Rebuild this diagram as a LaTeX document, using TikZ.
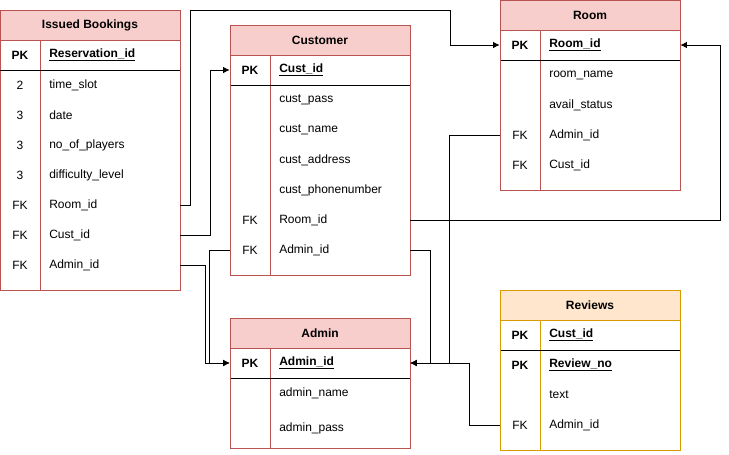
\documentclass[tikz,border=0pt]{standalone}
\usepackage{fontspec}
\setmainfont{Liberation Sans}
\usetikzlibrary{arrows.meta}
\definecolor{redline}{HTML}{B85450}
\definecolor{redfill}{HTML}{F8CECC}
\definecolor{orline}{HTML}{D79B00}
\definecolor{orfill}{HTML}{FFE6CC}
\tikzset{
	tbl/.style={draw=redline, line width=0.75pt},
	title/.style={font=\fontsize{9}{10}\selectfont\bfseries, inner sep=0.75pt},
	keycol/.style={font=\fontsize{9}{10}\selectfont, inner sep=0.75pt},
	fieldcol/.style={font=\fontsize{9}{10}\selectfont, anchor=west, inner sep=0.75pt},
	rowbox/.style={minimum width=135pt, minimum height=22.5pt, inner sep=0pt},
	fk/.style={line width=0.75pt, -{Latex[length=5pt,width=5pt]}},
}
\begin{document}
\begin{tikzpicture}[x=0.75pt,y=0.75pt,yscale=-1,xscale=1]
	\useasboundingbox (0,0) rectangle (729,454);
	% Issued Bookings
	\draw[tbl, fill=redfill] (0,10) rectangle (180,40);
	\draw[tbl] (0,10) rectangle (180,290) (40,40) -- (40,290);
	\draw[line width=0.75pt] (0.5,70) -- (179.5,70);
	\node[title] (ib) at (90,25) {Issued Bookings};
	\node[rowbox] (ib-pk) at (90,55) {};
	\node[keycol, font=\fontsize{9}{10}\selectfont\bfseries] at (20,55) {PK};
	\node[fieldcol, font=\fontsize{9}{10}\selectfont\bfseries] at (48,55) {\underline{Reservation\_id}};
	\foreach \k/\f [count=\i] in {2/time\_slot, 3/date, 3/no\_of\_players, 3/difficulty\_level, FK/Room\_id, FK/Cust\_id, FK/Admin\_id} {
		\node[rowbox] (ib-\i) at (90,55+30*\i) {};
		\node[keycol] at (20,55+30*\i) {\k};
		\node[fieldcol] at (48,55+30*\i) {\f};
	}
	% Customer
	\draw[tbl, fill=redfill] (230,25) rectangle (410,55);
	\draw[tbl] (230,25) rectangle (410,275) (270,55) -- (270,275);
	\draw[line width=0.75pt] (230.5,85) -- (409.5,85);
	\node[title] (cust) at (320,40) {Customer};
	\node[rowbox] (cust-pk) at (320,70) {};
	\node[keycol, font=\fontsize{9}{10}\selectfont\bfseries] at (250,70) {PK};
	\node[fieldcol, font=\fontsize{9}{10}\selectfont\bfseries] at (278,70) {\underline{Cust\_id}};
	\foreach \k/\f [count=\i] in {{}/cust\_pass, {}/cust\_name, {}/cust\_address, {}/cust\_phonenumber, FK/Room\_id, FK/Admin\_id} {
		\node[rowbox] (cust-\i) at (320,70+30*\i) {};
		\node[keycol] at (250,70+30*\i) {\k};
		\node[fieldcol] at (278,70+30*\i) {\f};
	}
	% Room
	\draw[tbl, fill=redfill] (500,0) rectangle (680,30);
	\draw[tbl] (500,0) rectangle (680,190) (540,30) -- (540,190);
	\draw[line width=0.75pt] (500.5,60) -- (679.5,60);
	\node[title] (room) at (590,15) {Room};
	\node[rowbox] (room-pk) at (590,45) {};
	\node[keycol, font=\fontsize{9}{10}\selectfont\bfseries] at (520,45) {PK};
	\node[fieldcol, font=\fontsize{9}{10}\selectfont\bfseries] at (548,45) {\underline{Room\_id}};
	\foreach \k/\f [count=\i] in {{}/room\_name, {}/avail\_status, FK/Admin\_id, FK/Cust\_id} {
		\node[rowbox] (room-\i) at (590,45+30*\i) {};
		\node[keycol] at (520,45+30*\i) {\k};
		\node[fieldcol] at (548,45+30*\i) {\f};
	}
	% Admin
	\draw[tbl, fill=redfill] (230,318) rectangle (410,348);
	\draw[tbl] (230,318) rectangle (410,448) (270,348) -- (270,448);
	\draw[line width=0.75pt] (230.5,378) -- (409.5,378);
	\node[title] (admin) at (320,333) {Admin};
	\node[rowbox] (admin-pk) at (320,363) {};
	\node[keycol, font=\fontsize{9}{10}\selectfont\bfseries] at (250,363) {PK};
	\node[fieldcol, font=\fontsize{9}{10}\selectfont\bfseries] at (278,363) {\underline{Admin\_id}};
	\node[fieldcol] at (278,393) {admin\_name};
	\node[fieldcol] at (278,428) {admin\_pass};
	% Reviews
	\draw[tbl, draw=orline, fill=orfill] (500,290) rectangle (680,320);
	\draw[tbl, draw=orline] (500,290) rectangle (680,450) (540,320) -- (540,450);
	\draw[line width=0.75pt] (500.5,350) -- (679.5,350);
	\node[title] (rev) at (590,305) {Reviews};
	\node[rowbox] (rev-pk) at (590,335) {};
	\node[keycol, font=\fontsize{9}{10}\selectfont\bfseries] at (520,335) {PK};
	\node[fieldcol, font=\fontsize{9}{10}\selectfont\bfseries] at (548,335) {\underline{Cust\_id}};
	\node[rowbox] (rev-1) at (590,365) {};
	\node[keycol, font=\fontsize{9}{10}\selectfont\bfseries] at (520,365) {PK};
	\node[fieldcol, font=\fontsize{9}{10}\selectfont\bfseries] at (548,365) {\underline{Review\_no}};
	\node[rowbox] (rev-2) at (590,395) {};
	\node[fieldcol] at (548,395) {text};
	\node[rowbox] (rev-3) at (590,425) {};
	\node[keycol] at (520,425) {FK};
	\node[fieldcol] at (548,425) {Admin\_id};
	% links
	\draw[fk] (ib-5.east) -- ++(10,0) |- (450,10) |- (room-pk.west);
	\draw[fk] (ib-6.east) -- ++(30,0) |- (cust-pk.west);
	\draw[fk] (ib-7.east) -- ++(25,0) |- (admin-pk.west);
	\draw[fk] (cust-6.west) -- ++(-20,0) |- (admin-pk.west);
	\draw[fk] (cust-6.east) -- ++(20,0) |- (admin-pk.east);
	\draw[fk] (cust-5.east) -- ++(310,0) |- (room-pk.east);
	\draw[fk] (room-3.west) -- ++(-50,0) |- (admin-pk.east);
	\draw[fk] (rev-3.west) -- ++(-30,0) |- (admin-pk.east);
\end{tikzpicture}
\end{document}
